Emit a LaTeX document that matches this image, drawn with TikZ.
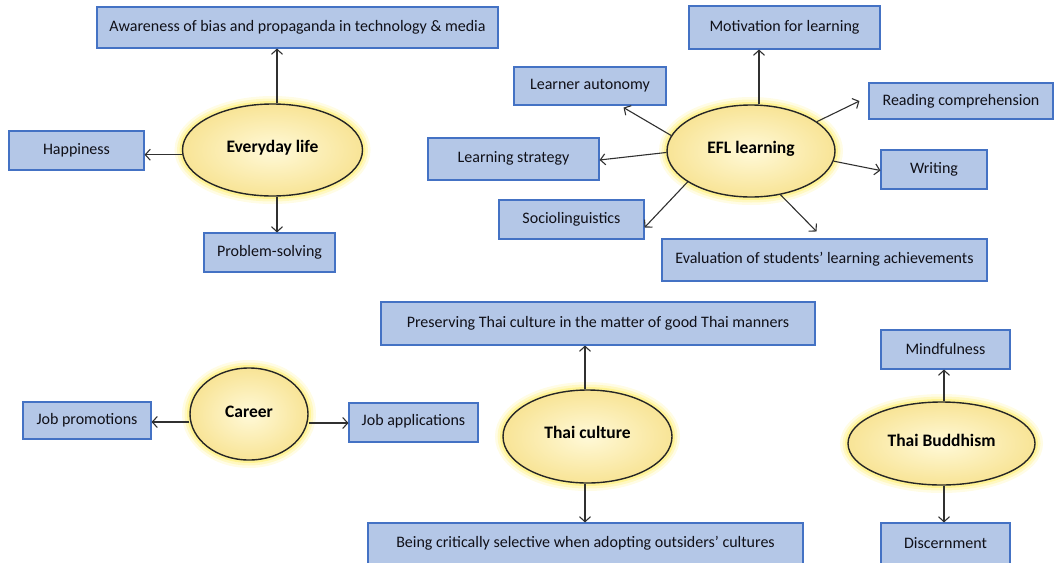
\documentclass[tikz,border=0pt]{standalone}
\usepackage{fontspec}
\setmainfont{Carlito}
\usetikzlibrary{shapes.geometric,arrows.meta}

\definecolor{boxfill}{HTML}{B4C7E7}
\definecolor{boxline}{HTML}{4472C4}
\definecolor{ovalin}{HTML}{FFF9D8}
\definecolor{ovalout}{HTML}{F8E496}
\definecolor{glowc}{HTML}{FFEF70}
\definecolor{linkc}{HTML}{303030}
\definecolor{txtc}{HTML}{101018}

\tikzset{
  topic/.style={rectangle, draw=boxline, fill=boxfill, line width=1.1pt,
    inner sep=0pt, text=txtc, font=\fontsize{16}{18}\selectfont},
  theme/.style={ellipse, draw=black!85, line width=1.4pt, inner sep=0pt,
    shading=radial, inner color=ovalin, outer color=ovalout,
    text=black, font=\bfseries\fontsize{17.5}{19}\selectfont,
    preaction={draw=glowc, line width=16pt, opacity=0.18},
    preaction={draw=glowc, line width=11pt, opacity=0.3},
    preaction={draw=glowc, line width=6pt, opacity=0.55}},
  link/.style={draw=linkc, line width=1.1pt,
    -{Straight Barb[length=5pt,width=11pt,line width=1.1pt]}}
}

\begin{document}
\begin{tikzpicture}[x=1pt,y=-1pt]
\useasboundingbox (0,0) rectangle (1057,562);

% ---- theme ovals ----
\node[theme, minimum width=180pt, minimum height=92pt] (ev) at (272.5,150)
  {\raisebox{7pt}{Everyday life}};
\node[theme, minimum width=168pt, minimum height=92pt] (efl) at (751,151)
  {\raisebox{8pt}{EFL learning}};
\node[theme, minimum width=118pt, minimum height=92pt] (car) at (249,414)
  {\raisebox{4pt}{Career}};
\node[theme, minimum width=169pt, minimum height=93pt] (tc) at (587.5,436.5)
  {\raisebox{8pt}{Thai culture}};
\node[theme, minimum width=187pt, minimum height=83pt] (tb) at (941.5,443.5)
  {\raisebox{7pt}{Thai Buddhism}};

% ---- topic boxes ----
\node[topic, minimum width=401pt, minimum height=41pt] (aware) at (297.5,27.5)
  {Awareness of bias and propaganda in technology \& media};
\node[topic, minimum width=135pt, minimum height=39pt] (hap) at (76.5,150.5)
  {\raisebox{4pt}{Happiness}};
\node[topic, minimum width=131pt, minimum height=39pt] (prob) at (269.5,252.5)
  {Problem-solving};

\node[topic, minimum width=191pt, minimum height=43pt] (mot) at (784.5,27.5)
  {\raisebox{4pt}{Motivation for learning}};
\node[topic, minimum width=152pt, minimum height=38pt] (aut) at (590,86)
  {\raisebox{2pt}{Learner autonomy}};
\node[topic, minimum width=171pt, minimum height=42pt] (str) at (513.5,159)
  {\raisebox{4pt}{Learning strategy}};
\node[topic, minimum width=145pt, minimum height=39pt] (soc) at (571.5,219.5)
  {\raisebox{2pt}{Sociolinguistics}};
\node[topic, minimum width=184pt, minimum height=36pt] (rea) at (961,101)
  {Reading comprehension};
\node[topic, minimum width=106pt, minimum height=39pt] (wri) at (934,169.5)
  {\raisebox{4pt}{Writing}};
\node[topic, minimum width=325pt, minimum height=42pt] (eva) at (824.5,260)
  {\raisebox{5pt}{Evaluation of students’ learning achievements}};

\node[topic, minimum width=128pt, minimum height=37pt] (jp) at (87,420.5)
  {\raisebox{2pt}{Job promotions}};
\node[topic, minimum width=129pt, minimum height=39pt] (ja) at (413.5,422.5)
  {\raisebox{5pt}{Job applications}};

\node[topic, minimum width=434pt, minimum height=43pt] (pres) at (598,323.5)
  {\raisebox{4pt}{Preserving Thai culture in the matter of good Thai manners}};
\node[topic, minimum width=435pt, minimum height=41pt] (sel) at (585.5,543.5)
  {\raisebox{2pt}{Being critically selective when adopting outsiders’ cultures}};

\node[topic, minimum width=129pt, minimum height=39pt] (mind) at (945.5,349.5)
  {\raisebox{2pt}{Mindfulness}};
\node[topic, minimum width=129pt, minimum height=41pt] (dis) at (945.5,543.5)
  {\raisebox{2pt}{Discernment}};

% ---- Everyday life ----
\draw[link] ([xshift=4.5pt]ev.north) -- ([xshift=4.5pt]ev.north |- aware.south);
\draw[link] (ev.183) -- (ev.183 -| hap.east);
\draw[link] ([xshift=4.5pt]ev.south) -- ([xshift=4.5pt]ev.south |- prob.north);

% ---- EFL learning ----
\draw[link] ([xshift=8pt]efl.north) -- ([xshift=8pt]efl.north |- mot.south);
\draw[link] (efl.169) -- ([xshift=-43pt,yshift=-2pt]aut.south east);
\draw[link] (efl.181) -- ([yshift=-1pt]str.east);
\draw[link] (efl.206) -- ([yshift=-8pt]soc.east);
\draw[link] (efl.24) -- ([xshift=-9pt]rea.west);
\draw[link] (efl.353) -- ([yshift=-1pt]wri.west);
\draw[link] (efl.304) -- ([xshift=-8pt,yshift=7pt]eva.north);

% ---- Career ----
\draw[link] (car.west |- jp.east) ++(0,1.5) coordinate (cl) (cl) -- (cl -| jp.east);
\draw[link] (car.east |- ja.east) ++(0,0.5) coordinate (cr) (cr) -- (cr -| ja.west);

% ---- Thai culture ----
\draw[link] ([xshift=-2.5pt]tc.north) -- ([xshift=-2.5pt]tc.north |- pres.south);
\draw[link] ([xshift=-2.5pt]tc.south) -- ([xshift=-2.5pt]tc.south |- sel.north);

% ---- Thai Buddhism ----
\draw[link] ([xshift=2.5pt]tb.north) -- ([xshift=2.5pt]tb.north |- mind.south);
\draw[link] ([xshift=2.5pt]tb.south) -- ([xshift=2.5pt]tb.south |- dis.north);
\end{tikzpicture}
\end{document}
